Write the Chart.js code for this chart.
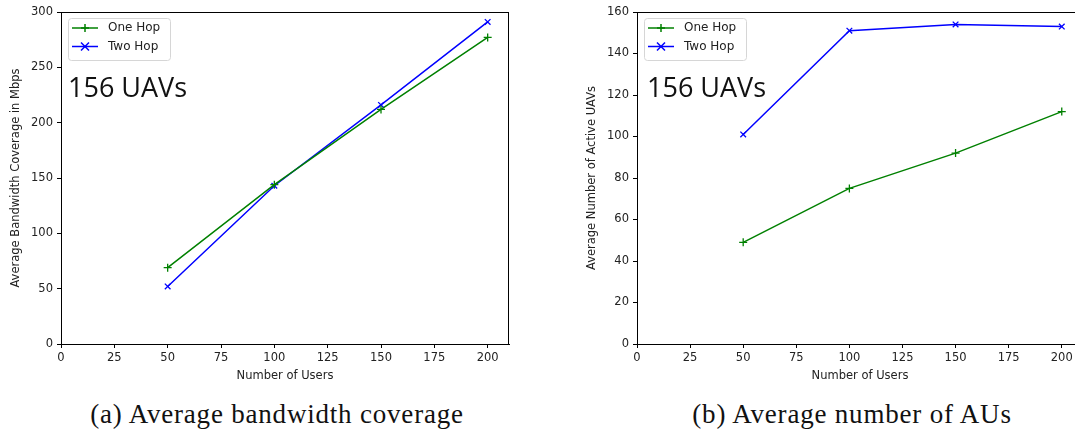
<!DOCTYPE html>
<html>
<head>
<meta charset="utf-8">
<script src="https://cdn.jsdelivr.net/npm/chart.js@4"></script>
<style>
  html, body { margin: 0; padding: 0; background: #fff; overflow: hidden; }
  body { width: 1075px; height: 433px; position: relative; }
  .box { position: absolute; top: 0; height: 390px; }
  #boxA { left: 0; width: 540px; }
  #boxB { left: 560px; width: 560px; }
  .note { position: absolute; top: 73px; font-family: "Open Sans", sans-serif; font-size: 27px; line-height: 1; color: #111; }
  .cap { position: absolute; top: 401px; font-family: "Liberation Serif", serif; font-size: 27px; line-height: 1; letter-spacing: 0.8px; color: #111; white-space: nowrap; transform: translateX(-50%); }
</style>
</head>
<body>
<div class="box" id="boxA"><canvas id="chartA"></canvas></div>
<div class="box" id="boxB"><canvas id="chartB"></canvas></div>
<div class="note" style="left:68px;">156 UAVs</div>
<div class="note" style="left:647px;">156 UAVs</div>
<div class="cap" style="left:277px;">(a) Average bandwidth coverage</div>
<div class="cap" style="left:852px;">(b) Average number of AUs</div>
<script>
  const users = [50, 100, 150, 200];
  const bwOneHop = [69, 144, 212, 277];
  const bwTwoHop = [52, 143, 216, 291];
  const auOneHop = [49, 75, 92, 112];
  const auTwoHop = [101, 151, 154, 153];
  const seriesNames = ["One Hop", "Two Hop"];

  const GREEN = "#008000";
  const BLUE = "#0000ff";
  const TICK_FONT = { family: "DejaVu Sans", size: 11.5 };

  function pts(ys) {
    return users.map((u, i) => ({ x: u, y: ys[i] }));
  }

  function marker(ctx, style, x, y, r) {
    ctx.beginPath();
    if (style === "cross") {
      ctx.moveTo(x - r, y); ctx.lineTo(x + r, y);
      ctx.moveTo(x, y - r); ctx.lineTo(x, y + r);
    } else {
      ctx.moveTo(x - r, y - r); ctx.lineTo(x + r, y + r);
      ctx.moveTo(x - r, y + r); ctx.lineTo(x + r, y - r);
    }
    ctx.stroke();
  }

  // box around plot + matplotlib-like legend
  const frameLegend = {
    id: "frameLegend",
    afterDraw(chart) {
      const { ctx, chartArea: a } = chart;
      ctx.save();
      ctx.strokeStyle = "#000";
      ctx.lineWidth = 1;
      ctx.strokeRect(a.left + 0.5, a.top + 0.5, a.right - a.left - 1, a.bottom - a.top);

      const lx = a.left + 7, ly = a.top + 6;
      ctx.fillStyle = "rgba(255,255,255,0.8)";
      ctx.strokeStyle = "#d6d6d6";
      ctx.beginPath();
      ctx.roundRect(lx + 0.5, ly + 0.5, 102, 42, 3);
      ctx.fill();
      ctx.stroke();

      ctx.font = "12px 'DejaVu Sans'";
      ctx.textBaseline = "middle";
      chart.data.datasets.forEach((ds, i) => {
        const y = ly + 10 + i * 18.5;
        ctx.strokeStyle = ds.borderColor;
        ctx.lineWidth = 1.5;
        ctx.beginPath();
        ctx.moveTo(lx + 4, y); ctx.lineTo(lx + 30, y);
        ctx.stroke();
        marker(ctx, ds.pointStyle, lx + 17, y, 4);
        ctx.fillStyle = "#222";
        ctx.fillText(ds.label, lx + 40, y);
      });
      ctx.restore();
    },
  };

  function makeChart(id, one, two, yMax, yStep, yTitle, yWidth, yTitlePad, rightPad) {
    return new Chart(document.getElementById(id), {
      type: "line",
      data: {
        datasets: [
          { label: seriesNames[0], data: pts(one), borderColor: GREEN, backgroundColor: GREEN,
            borderWidth: 1.5, pointStyle: "cross", pointRadius: 4, pointBorderWidth: 1.3 },
          { label: seriesNames[1], data: pts(two), borderColor: BLUE, backgroundColor: BLUE,
            borderWidth: 1.5, pointStyle: "crossRot", pointRadius: 4, pointBorderWidth: 1.3 },
        ],
      },
      options: {
        responsive: true,
        maintainAspectRatio: false,
        animation: false,
        layout: { padding: { top: 12, right: rightPad, bottom: 0, left: 0 } },
        plugins: { legend: { display: false }, tooltip: { enabled: false } },
        scales: {
          x: {
            type: "linear",
            min: 0,
            max: 210,
            afterFit(s) { s.height = 46; },
            ticks: { stepSize: 25, includeBounds: false, font: TICK_FONT, color: "#222", padding: 3, maxRotation: 0 },
            grid: { drawOnChartArea: false, drawTicks: true, tickLength: 4, color: "#000" },
            border: { color: "#000" },
            title: { display: true, text: "Number of Users", font: TICK_FONT, color: "#222", padding: { bottom: 7 } },
          },
          y: {
            min: 0,
            max: yMax,
            afterFit(s) { s.width = yWidth; },
            ticks: { stepSize: yStep, font: TICK_FONT, color: "#222", padding: 4 },
            grid: { drawOnChartArea: false, drawTicks: true, tickLength: 4, color: "#000" },
            border: { color: "#000" },
            title: { display: true, text: yTitle, font: TICK_FONT, color: "#222", padding: { top: yTitlePad } },
          },
        },
      },
      plugins: [frameLegend],
    });
  }

  makeChart("chartA", bwOneHop, bwTwoHop, 300, 50, "Average Bandwidth Coverage in Mbps", 61, 9, 31);
  makeChart("chartB", auOneHop, auTwoHop, 160, 20, "Average Number of Active UAVs", 77, 25, 37);
</script>
</body>
</html>
